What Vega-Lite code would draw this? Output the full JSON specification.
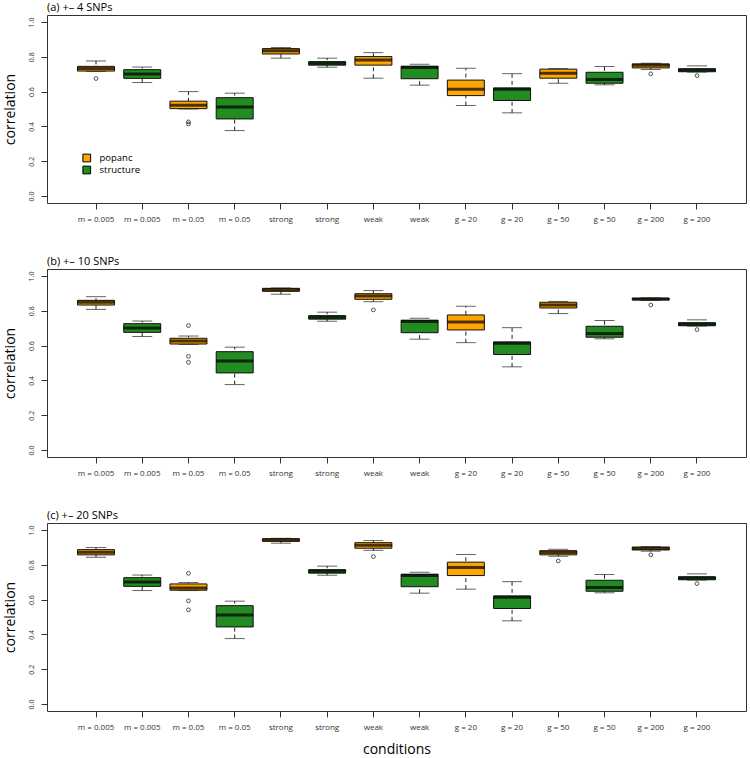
{
"$schema": "https://vega.github.io/schema/vega-lite/v6.json",
"padding": {"left": 2, "top": 1, "right": 1, "bottom": 0},
"background": "white",
"data": {"values": [
{"panel":"a","key":"m = 0.005|popanc","method":"popanc","lo":0.716,"q1":0.718,"med":0.732,"q3":0.745,"hi":0.776},
{"panel":"a","key":"m = 0.005|structure","method":"structure","lo":0.652,"q1":0.676,"med":0.701,"q3":0.726,"hi":0.741},
{"panel":"a","key":"m = 0.05|popanc","method":"popanc","lo":0.500,"q1":0.502,"med":0.522,"q3":0.545,"hi":0.600},
{"panel":"a","key":"m = 0.05|structure","method":"structure","lo":0.376,"q1":0.443,"med":0.511,"q3":0.565,"hi":0.591},
{"panel":"a","key":"strong|popanc","method":"popanc","lo":0.792,"q1":0.816,"med":0.834,"q3":0.847,"hi":0.853},
{"panel":"a","key":"strong|structure","method":"structure","lo":0.740,"q1":0.752,"med":0.763,"q3":0.772,"hi":0.792},
{"panel":"a","key":"weak|popanc","method":"popanc","lo":0.677,"q1":0.752,"med":0.782,"q3":0.801,"hi":0.824},
{"panel":"a","key":"weak|structure","method":"structure","lo":0.637,"q1":0.674,"med":0.739,"q3":0.746,"hi":0.757},
{"panel":"a","key":"g = 20|popanc","method":"popanc","lo":0.520,"q1":0.577,"med":0.614,"q3":0.666,"hi":0.734},
{"panel":"a","key":"g = 20|structure","method":"structure","lo":0.478,"q1":0.549,"med":0.613,"q3":0.621,"hi":0.703},
{"panel":"a","key":"g = 50|popanc","method":"popanc","lo":0.648,"q1":0.677,"med":0.706,"q3":0.729,"hi":0.732},
{"panel":"a","key":"g = 50|structure","method":"structure","lo":0.639,"q1":0.648,"med":0.669,"q3":0.711,"hi":0.744},
{"panel":"a","key":"g = 200|popanc","method":"popanc","lo":0.727,"q1":0.736,"med":0.752,"q3":0.759,"hi":0.763},
{"panel":"a","key":"g = 200|structure","method":"structure","lo":0.712,"q1":0.714,"med":0.724,"q3":0.731,"hi":0.748},
{"panel":"b","key":"m = 0.005|popanc","method":"popanc","lo":0.808,"q1":0.833,"med":0.849,"q3":0.860,"hi":0.881},
{"panel":"b","key":"m = 0.005|structure","method":"structure","lo":0.652,"q1":0.676,"med":0.701,"q3":0.726,"hi":0.741},
{"panel":"b","key":"m = 0.05|popanc","method":"popanc","lo":0.607,"q1":0.609,"med":0.626,"q3":0.642,"hi":0.655},
{"panel":"b","key":"m = 0.05|structure","method":"structure","lo":0.376,"q1":0.443,"med":0.511,"q3":0.565,"hi":0.591},
{"panel":"b","key":"strong|popanc","method":"popanc","lo":0.895,"q1":0.912,"med":0.921,"q3":0.929,"hi":0.931},
{"panel":"b","key":"strong|structure","method":"structure","lo":0.740,"q1":0.752,"med":0.763,"q3":0.772,"hi":0.792},
{"panel":"b","key":"weak|popanc","method":"popanc","lo":0.852,"q1":0.866,"med":0.885,"q3":0.898,"hi":0.916},
{"panel":"b","key":"weak|structure","method":"structure","lo":0.637,"q1":0.674,"med":0.739,"q3":0.746,"hi":0.757},
{"panel":"b","key":"g = 20|popanc","method":"popanc","lo":0.617,"q1":0.690,"med":0.736,"q3":0.776,"hi":0.826},
{"panel":"b","key":"g = 20|structure","method":"structure","lo":0.478,"q1":0.549,"med":0.613,"q3":0.621,"hi":0.703},
{"panel":"b","key":"g = 50|popanc","method":"popanc","lo":0.784,"q1":0.816,"med":0.833,"q3":0.849,"hi":0.854},
{"panel":"b","key":"g = 50|structure","method":"structure","lo":0.639,"q1":0.648,"med":0.669,"q3":0.711,"hi":0.744},
{"panel":"b","key":"g = 200|popanc","method":"popanc","lo":0.860,"q1":0.862,"med":0.868,"q3":0.872,"hi":0.874},
{"panel":"b","key":"g = 200|structure","method":"structure","lo":0.712,"q1":0.714,"med":0.724,"q3":0.731,"hi":0.748},
{"panel":"c","key":"m = 0.005|popanc","method":"popanc","lo":0.843,"q1":0.857,"med":0.872,"q3":0.887,"hi":0.899},
{"panel":"c","key":"m = 0.005|structure","method":"structure","lo":0.652,"q1":0.676,"med":0.701,"q3":0.726,"hi":0.741},
{"panel":"c","key":"m = 0.05|popanc","method":"popanc","lo":0.652,"q1":0.654,"med":0.667,"q3":0.690,"hi":0.698},
{"panel":"c","key":"m = 0.05|structure","method":"structure","lo":0.376,"q1":0.443,"med":0.511,"q3":0.565,"hi":0.591},
{"panel":"c","key":"strong|popanc","method":"popanc","lo":0.924,"q1":0.935,"med":0.943,"q3":0.950,"hi":0.952},
{"panel":"c","key":"strong|structure","method":"structure","lo":0.740,"q1":0.752,"med":0.763,"q3":0.772,"hi":0.792},
{"panel":"c","key":"weak|popanc","method":"popanc","lo":0.883,"q1":0.895,"med":0.912,"q3":0.927,"hi":0.939},
{"panel":"c","key":"weak|structure","method":"structure","lo":0.637,"q1":0.674,"med":0.739,"q3":0.746,"hi":0.757},
{"panel":"c","key":"g = 20|popanc","method":"popanc","lo":0.660,"q1":0.738,"med":0.784,"q3":0.815,"hi":0.859},
{"panel":"c","key":"g = 20|structure","method":"structure","lo":0.478,"q1":0.549,"med":0.613,"q3":0.621,"hi":0.703},
{"panel":"c","key":"g = 50|popanc","method":"popanc","lo":0.849,"q1":0.857,"med":0.870,"q3":0.881,"hi":0.889},
{"panel":"c","key":"g = 50|structure","method":"structure","lo":0.639,"q1":0.648,"med":0.669,"q3":0.711,"hi":0.744},
{"panel":"c","key":"g = 200|popanc","method":"popanc","lo":0.878,"q1":0.885,"med":0.893,"q3":0.902,"hi":0.904},
{"panel":"c","key":"g = 200|structure","method":"structure","lo":0.712,"q1":0.714,"med":0.724,"q3":0.731,"hi":0.748},
{"panel":"a","key":"m = 0.005|popanc","method":"popanc","out":0.675},
{"panel":"a","key":"m = 0.05|popanc","method":"popanc","out":0.426},
{"panel":"a","key":"m = 0.05|popanc","method":"popanc","out":0.414},
{"panel":"a","key":"g = 200|popanc","method":"popanc","out":0.702},
{"panel":"a","key":"g = 200|structure","method":"structure","out":0.692},
{"panel":"b","key":"m = 0.05|popanc","method":"popanc","out":0.715},
{"panel":"b","key":"m = 0.05|popanc","method":"popanc","out":0.538},
{"panel":"b","key":"m = 0.05|popanc","method":"popanc","out":0.504},
{"panel":"b","key":"weak|popanc","method":"popanc","out":0.805},
{"panel":"b","key":"g = 200|popanc","method":"popanc","out":0.833},
{"panel":"b","key":"g = 200|structure","method":"structure","out":0.692},
{"panel":"c","key":"m = 0.05|popanc","method":"popanc","out":0.751},
{"panel":"c","key":"m = 0.05|popanc","method":"popanc","out":0.593},
{"panel":"c","key":"m = 0.05|popanc","method":"popanc","out":0.541},
{"panel":"c","key":"weak|popanc","method":"popanc","out":0.847},
{"panel":"c","key":"g = 50|popanc","method":"popanc","out":0.822},
{"panel":"c","key":"g = 200|popanc","method":"popanc","out":0.857},
{"panel":"c","key":"g = 200|structure","method":"structure","out":0.692}
]},
"spacing": 31,
"resolve": {"scale": {"color": "independent"}},
"vconcat": [
{
"title": {"text": "(a) +– 4 SNPs", "anchor": "start", "frame": "group", "fontSize": 11, "fontWeight": "normal", "offset": 2, "color": "black"},
"width": 699, "height": 188,
"transform": [{"filter": "datum.panel === 'a'"}],
"encoding": {"x": {"field": "key", "type": "nominal", "scale": {"type": "band", "paddingInner": 0.2, "paddingOuter": 0.66, "domain": ["m = 0.005|popanc","m = 0.005|structure","m = 0.05|popanc","m = 0.05|structure","strong|popanc","strong|structure","weak|popanc","weak|structure","g = 20|popanc","g = 20|structure","g = 50|popanc","g = 50|structure","g = 200|popanc","g = 200|structure"]}, "axis": {"title": null}}},
"layer": [
{"transform": [{"filter": "isValid(datum.q1)"}], "mark": {"type": "rule", "strokeDash": [4, 3], "color": "#222", "strokeWidth": 1}, "encoding": {"y": {"field": "lo", "type": "quantitative", "scale": {"domain": [-0.04, 1.04], "nice": false, "zero": false}, "axis": {"title": "correlation", "values": [0, 0.2, 0.4, 0.6, 0.8, 1.0], "tickCount": 20, "labelOverlap": false}}, "y2": {"field": "hi"}}},
{"transform": [{"filter": "isValid(datum.q1)"}], "mark": {"type": "tick", "size": 20, "thickness": 1, "color": "#222"}, "encoding": {"y": {"field": "lo", "type": "quantitative"}}},
{"transform": [{"filter": "isValid(datum.q1)"}], "mark": {"type": "tick", "size": 20, "thickness": 1, "color": "#222"}, "encoding": {"y": {"field": "hi", "type": "quantitative"}}},
{"transform": [{"filter": "isValid(datum.q1)"}], "mark": {"type": "bar", "stroke": "#111", "strokeWidth": 1}, "encoding": {"y": {"field": "q1", "type": "quantitative"}, "y2": {"field": "q3"}, "color": {"field": "method", "type": "nominal", "scale": {"domain": ["popanc", "structure"], "range": ["#FFA500", "#228B22"]}, "legend": {"title": null, "orient": "none", "legendX": 35, "legendY": 137, "symbolType": "square", "symbolSize": 60, "symbolStrokeColor": "black", "symbolStrokeWidth": 1, "labelFontSize": 9.5, "labelOffset": 8, "rowPadding": 0, "clipHeight": 12, "padding": 0, "labelColor": "black"}}}},
{"transform": [{"filter": "isValid(datum.q1)"}], "mark": {"type": "tick", "size": 37, "thickness": 3, "color": "black"}, "encoding": {"y": {"field": "med", "type": "quantitative"}}},
{"transform": [{"filter": "isValid(datum.out)"}], "mark": {"type": "point", "shape": "circle", "filled": false, "stroke": "black", "size": 14, "strokeWidth": 1}, "encoding": {"y": {"field": "out", "type": "quantitative"}}}
]
},
{
"title": {"text": "(b) +– 10 SNPs", "anchor": "start", "frame": "group", "fontSize": 11, "fontWeight": "normal", "offset": 2, "color": "black"},
"width": 699, "height": 188,
"transform": [{"filter": "datum.panel === 'b'"}],
"encoding": {"x": {"field": "key", "type": "nominal", "scale": {"type": "band", "paddingInner": 0.2, "paddingOuter": 0.66, "domain": ["m = 0.005|popanc","m = 0.005|structure","m = 0.05|popanc","m = 0.05|structure","strong|popanc","strong|structure","weak|popanc","weak|structure","g = 20|popanc","g = 20|structure","g = 50|popanc","g = 50|structure","g = 200|popanc","g = 200|structure"]}, "axis": {"title": null}}},
"layer": [
{"transform": [{"filter": "isValid(datum.q1)"}], "mark": {"type": "rule", "strokeDash": [4, 3], "color": "#222", "strokeWidth": 1}, "encoding": {"y": {"field": "lo", "type": "quantitative", "scale": {"domain": [-0.04, 1.04], "nice": false, "zero": false}, "axis": {"title": "correlation", "values": [0, 0.2, 0.4, 0.6, 0.8, 1.0], "tickCount": 20, "labelOverlap": false}}, "y2": {"field": "hi"}}},
{"transform": [{"filter": "isValid(datum.q1)"}], "mark": {"type": "tick", "size": 20, "thickness": 1, "color": "#222"}, "encoding": {"y": {"field": "lo", "type": "quantitative"}}},
{"transform": [{"filter": "isValid(datum.q1)"}], "mark": {"type": "tick", "size": 20, "thickness": 1, "color": "#222"}, "encoding": {"y": {"field": "hi", "type": "quantitative"}}},
{"transform": [{"filter": "isValid(datum.q1)"}], "mark": {"type": "bar", "stroke": "#111", "strokeWidth": 1}, "encoding": {"y": {"field": "q1", "type": "quantitative"}, "y2": {"field": "q3"}, "color": {"field": "method", "type": "nominal", "scale": {"domain": ["popanc", "structure"], "range": ["#FFA500", "#228B22"]}, "legend": null}}},
{"transform": [{"filter": "isValid(datum.q1)"}], "mark": {"type": "tick", "size": 37, "thickness": 3, "color": "black"}, "encoding": {"y": {"field": "med", "type": "quantitative"}}},
{"transform": [{"filter": "isValid(datum.out)"}], "mark": {"type": "point", "shape": "circle", "filled": false, "stroke": "black", "size": 14, "strokeWidth": 1}, "encoding": {"y": {"field": "out", "type": "quantitative"}}}
]
},
{
"title": {"text": "(c) +– 20 SNPs", "anchor": "start", "frame": "group", "fontSize": 11, "fontWeight": "normal", "offset": 2, "color": "black"},
"width": 699, "height": 188,
"transform": [{"filter": "datum.panel === 'c'"}],
"encoding": {"x": {"field": "key", "type": "nominal", "scale": {"type": "band", "paddingInner": 0.2, "paddingOuter": 0.66, "domain": ["m = 0.005|popanc","m = 0.005|structure","m = 0.05|popanc","m = 0.05|structure","strong|popanc","strong|structure","weak|popanc","weak|structure","g = 20|popanc","g = 20|structure","g = 50|popanc","g = 50|structure","g = 200|popanc","g = 200|structure"]}, "axis": {"title": "conditions", "titleFontSize": 14, "titleFontWeight": "normal", "titlePadding": 11, "titleColor": "black"}}},
"layer": [
{"transform": [{"filter": "isValid(datum.q1)"}], "mark": {"type": "rule", "strokeDash": [4, 3], "color": "#222", "strokeWidth": 1}, "encoding": {"y": {"field": "lo", "type": "quantitative", "scale": {"domain": [-0.04, 1.04], "nice": false, "zero": false}, "axis": {"title": "correlation", "values": [0, 0.2, 0.4, 0.6, 0.8, 1.0], "tickCount": 20, "labelOverlap": false}}, "y2": {"field": "hi"}}},
{"transform": [{"filter": "isValid(datum.q1)"}], "mark": {"type": "tick", "size": 20, "thickness": 1, "color": "#222"}, "encoding": {"y": {"field": "lo", "type": "quantitative"}}},
{"transform": [{"filter": "isValid(datum.q1)"}], "mark": {"type": "tick", "size": 20, "thickness": 1, "color": "#222"}, "encoding": {"y": {"field": "hi", "type": "quantitative"}}},
{"transform": [{"filter": "isValid(datum.q1)"}], "mark": {"type": "bar", "stroke": "#111", "strokeWidth": 1}, "encoding": {"y": {"field": "q1", "type": "quantitative"}, "y2": {"field": "q3"}, "color": {"field": "method", "type": "nominal", "scale": {"domain": ["popanc", "structure"], "range": ["#FFA500", "#228B22"]}, "legend": null}}},
{"transform": [{"filter": "isValid(datum.q1)"}], "mark": {"type": "tick", "size": 37, "thickness": 3, "color": "black"}, "encoding": {"y": {"field": "med", "type": "quantitative"}}},
{"transform": [{"filter": "isValid(datum.out)"}], "mark": {"type": "point", "shape": "circle", "filled": false, "stroke": "black", "size": 14, "strokeWidth": 1}, "encoding": {"y": {"field": "out", "type": "quantitative"}}}
]
}
],
"config": {
"font": "Open Sans",
"view": {"stroke": "#333", "strokeWidth": 1},
"axis": {"grid": false, "labelColor": "#333", "tickColor": "#333", "titleColor": "black", "domain": false, "tickSize": 6},
"axisY": {"format": ".1f", "labelAngle": -90, "labelAlign": "center", "labelBaseline": "bottom", "labelOverlap": false, "labelFlush": false, "labelPadding": 7, "labelFontSize": 7, "titleFontSize": 14, "titleFontWeight": "normal", "titlePadding": 10},
"axisX": {"labelExpr": "split(datum.value, '|')[0]", "labelAngle": 0, "labelPadding": 6, "labelFontSize": 8, "labelOverlap": false},
"tick": {"bandSize": 37}
}
}
